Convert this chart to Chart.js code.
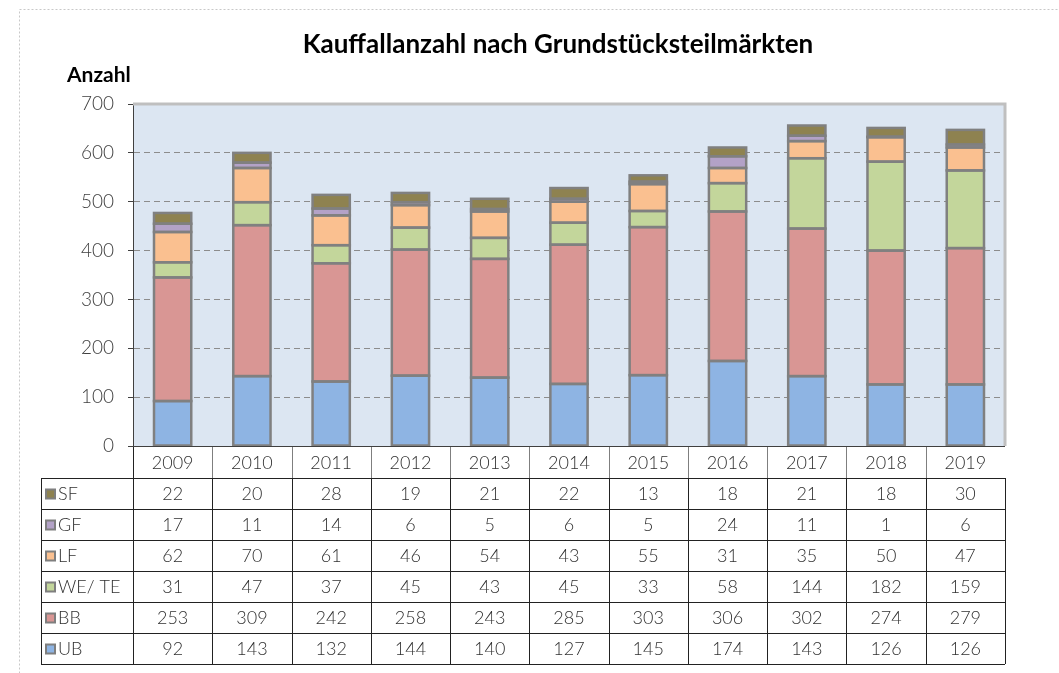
<!DOCTYPE html>
<html>
<head>
<meta charset="utf-8">
<script src="https://cdn.jsdelivr.net/npm/chart.js@4"></script>
<style>
  body { margin: 0; background: #fff; }
  #wrap { width: 1059px; height: 673px; position: relative; }
</style>
</head>
<body>
<div id="wrap"><canvas id="myChart"></canvas></div>
<script>
// Daten
const jahre = ['2009', '2010', '2011', '2012', '2013', '2014', '2015', '2016', '2017', '2018', '2019'];
const ub = [92, 143, 132, 144, 140, 127, 145, 174, 143, 126, 126];
const bb = [253, 309, 242, 258, 243, 285, 303, 306, 302, 274, 279];
const weTe = [31, 47, 37, 45, 43, 45, 33, 58, 144, 182, 159];
const lf = [62, 70, 61, 46, 54, 43, 55, 31, 35, 50, 47];
const gf = [17, 11, 14, 6, 5, 6, 5, 24, 11, 1, 6];
const sf = [22, 20, 28, 19, 21, 22, 13, 18, 21, 18, 30];
const yTicks = [0, 100, 200, 300, 400, 500, 600, 700];

const serien = [
  { label: 'UB', data: ub, color: '#8EB4E3' },
  { label: 'BB', data: bb, color: '#D99694' },
  { label: 'WE/ TE', data: weTe, color: '#C3D69B' },
  { label: 'LF', data: lf, color: '#FAC090' },
  { label: 'GF', data: gf, color: '#B3A2C7' },
  { label: 'SF', data: sf, color: '#8E8250' }
];

const FONT = 'Lato, "Open Sans", sans-serif';

// Hintergrund, Titel, Rahmen
const hintergrund = {
  id: 'hintergrund',
  beforeDraw(chart) {
    const { ctx, chartArea: a } = chart;
    ctx.save();
    // gepunkteter Außenrahmen
    ctx.strokeStyle = '#c8c8c8';
    ctx.lineWidth = 1;
    ctx.setLineDash([2, 2]);
    ctx.strokeRect(19.5, 9.5, 1100, 700);
    ctx.setLineDash([]);
    ctx.fillStyle = '#DCE6F2';
    ctx.fillRect(a.left, a.top, a.right - a.left, a.bottom - a.top);
    ctx.fillStyle = '#000';
    ctx.font = 'bold 26px ' + FONT;
    ctx.textAlign = 'center';
    ctx.textBaseline = 'middle';
    ctx.fillText('Kauffallanzahl nach Grundstücksteilmärkten', 558, 45);
    ctx.font = 'bold 21px ' + FONT;
    ctx.textAlign = 'left';
    ctx.fillText('Anzahl', 67, 75);
    ctx.restore();
  },
  afterDatasetsDraw(chart) {
    const { ctx, chartArea: a } = chart;
    ctx.save();
    // Balkenumrisse mittig auf den Kanten (wie Excel)
    ctx.strokeStyle = '#808080';
    ctx.lineWidth = 2.5;
    chart.data.datasets.forEach((d, di) => {
      chart.getDatasetMeta(di).data.forEach(bar => {
        const p = bar.getProps(['x', 'y', 'base', 'width'], true);
        ctx.strokeRect(p.x - p.width / 2, p.y, p.width, p.base - p.y);
      });
    });
    ctx.strokeStyle = '#bfbfbf';
    ctx.lineWidth = 3;
    ctx.beginPath();
    ctx.moveTo(a.left, a.top);
    ctx.lineTo(a.right, a.top);
    ctx.lineTo(a.right, a.bottom);
    ctx.stroke();
    ctx.restore();
  }
};

// Datentabelle unter dem Diagramm
const tabelle = {
  id: 'tabelle',
  afterDraw(chart) {
    const { ctx, chartArea: a } = chart;
    const x = chart.scales.x;
    const breite = (a.right - a.left) / jahre.length;
    const kopfH = 32, zeileH = 31, links = 41;
    const top = a.bottom;
    const zeilenTop = top + kopfH;
    const unten = zeilenTop + zeileH * serien.length;
    ctx.save();
    // Linien
    ctx.lineWidth = 1;
    ctx.strokeStyle = '#7f7f7f';
    for (let i = 1; i < jahre.length; i++) {
      const lx = Math.round(a.left + i * breite) + 0.5;
      ctx.beginPath(); ctx.moveTo(lx, top); ctx.lineTo(lx, zeilenTop); ctx.stroke();
    }
    ctx.strokeStyle = '#222';
    for (let i = 0; i <= jahre.length; i++) {
      const lx = Math.round(a.left + i * breite) + 0.5;
      ctx.beginPath(); ctx.moveTo(lx, i === 0 ? top : zeilenTop); ctx.lineTo(lx, unten); ctx.stroke();
    }
    ctx.beginPath(); ctx.moveTo(links + 0.5, zeilenTop); ctx.lineTo(links + 0.5, unten); ctx.stroke();
    for (let r = 0; r <= serien.length; r++) {
      const ly = zeilenTop + r * zeileH + 0.5;
      ctx.beginPath(); ctx.moveTo(links, ly); ctx.lineTo(a.right, ly); ctx.stroke();
    }
    ctx.strokeStyle = '#404040';
    ctx.beginPath(); ctx.moveTo(a.left, top + 0.5); ctx.lineTo(a.right, top + 0.5); ctx.stroke();

    // Texte
    ctx.font = '300 18px ' + FONT;
    ctx.fillStyle = '#303030';
    ctx.textBaseline = 'middle';
    ctx.textAlign = 'center';
    jahre.forEach((j, i) => ctx.fillText(j, x.getPixelForValue(i), top + kopfH / 2 + 1));
    const reihen = serien.slice().reverse();
    reihen.forEach((s, r) => {
      const cy = zeilenTop + r * zeileH + zeileH / 2 + 1;
      ctx.textAlign = 'center';
      s.data.forEach((v, i) => ctx.fillText(String(v), x.getPixelForValue(i), cy));
      // Legendensymbol
      ctx.fillStyle = s.color;
      ctx.fillRect(46, cy - 5, 9, 9);
      ctx.strokeStyle = '#7f7f7f';
      ctx.lineWidth = 2;
      ctx.strokeRect(46, cy - 5, 9, 9);
      ctx.fillStyle = '#303030';
      ctx.textAlign = 'left';
      ctx.fillText(s.label, 58, cy);
    });
    ctx.restore();
  }
};

const ctx = document.getElementById('myChart').getContext('2d');

new Chart(ctx, {
  type: 'bar',
  data: {
    labels: jahre,
    datasets: serien.map(s => ({
      label: s.label,
      data: s.data,
      backgroundColor: s.color,
      borderWidth: 0,
      barPercentage: 0.47,
      categoryPercentage: 1
    }))
  },
  options: {
    responsive: true,
    maintainAspectRatio: false,
    animation: false,
    layout: { padding: { left: 0, right: 54, top: 104, bottom: 227 } },
    plugins: {
      legend: { display: false },
      tooltip: { enabled: false },
      title: { display: false }
    },
    scales: {
      x: { stacked: true, display: false },
      y: {
        stacked: true,
        min: 0,
        max: 700,
        afterFit(s) { s.width = 133; },
        afterBuildTicks(s) { s.ticks = yTicks.map(v => ({ value: v })); },
        ticks: {
          font: { family: FONT, size: 19, weight: '300' },
          color: '#404040',
          padding: 14
        },
        grid: {
          color: c => (c.tick.value === 0 || c.tick.value === 700) ? 'rgba(0,0,0,0)' : '#8c8c8c',
          tickColor: '#404040',
          tickLength: 5,
          tickBorderDash: []
        },
        border: { display: true, color: '#404040', width: 1, dash: [6, 4] }
      }
    }
  },
  plugins: [hintergrund, tabelle]
});
</script>
</body>
</html>
